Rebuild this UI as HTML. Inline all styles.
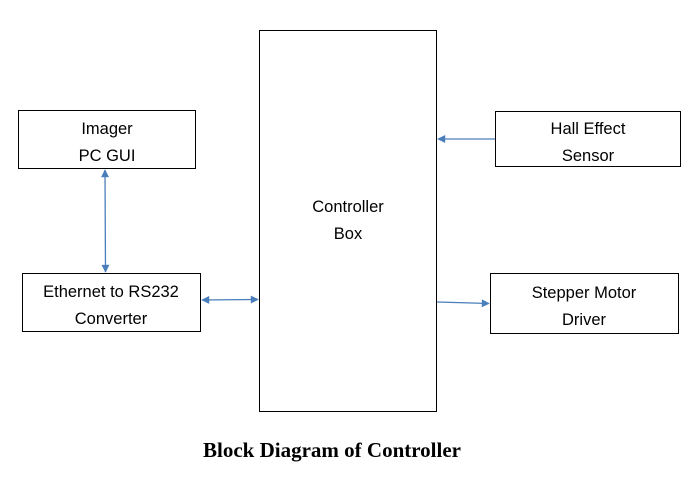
<!DOCTYPE html>
<html><head><style>
body{margin:0;width:694px;height:472px;background:#fff;overflow:hidden}
</style></head><body>
<svg width="694" height="472" xmlns="http://www.w3.org/2000/svg" font-family="Liberation Sans, sans-serif">
<defs>
<marker id="a" viewBox="0 0 10 10" refX="9" refY="5" markerWidth="9" markerHeight="8" orient="auto-start-reverse" markerUnits="userSpaceOnUse"><path d="M0,0L10,5L0,10z" fill="#4a7ebb"/></marker>
</defs>
<g fill="none" stroke="#000" stroke-width="1">
<rect x="18.5" y="110.5" width="177" height="58"/>
<rect x="22.5" y="273.5" width="178" height="58"/>
<rect x="259.5" y="30.5" width="177" height="381"/>
<rect x="495.5" y="111.5" width="185" height="55"/>
<rect x="490.5" y="273.5" width="188" height="60"/>
</g>
<g stroke="#4a7ebb" stroke-width="1.3" fill="none">
<line x1="105" y1="170" x2="105.5" y2="272" marker-start="url(#a)" marker-end="url(#a)"/>
<line x1="202" y1="300" x2="258" y2="299.5" marker-start="url(#a)" marker-end="url(#a)"/>
<line x1="495" y1="139" x2="438" y2="139" marker-end="url(#a)"/>
<line x1="437" y1="302" x2="489" y2="303.5" marker-end="url(#a)"/>
</g>
<g font-size="16.5" text-anchor="middle" fill="#000" textLength="">
<text x="107" y="134">Imager</text><text x="107" y="161">PC GUI</text>
<text x="111" y="297">Ethernet to RS232</text><text x="111" y="324">Converter</text>
<text x="348" y="212">Controller</text><text x="348" y="239">Box</text>
<text x="588" y="134">Hall Effect</text><text x="588" y="161">Sensor</text>
<text x="584" y="298">Stepper Motor</text><text x="584" y="325">Driver</text>
</g>
<text x="332" y="457" font-family="Liberation Serif, serif" font-weight="bold" font-size="21" text-anchor="middle">Block Diagram of Controller</text>
</svg>
</body></html>
